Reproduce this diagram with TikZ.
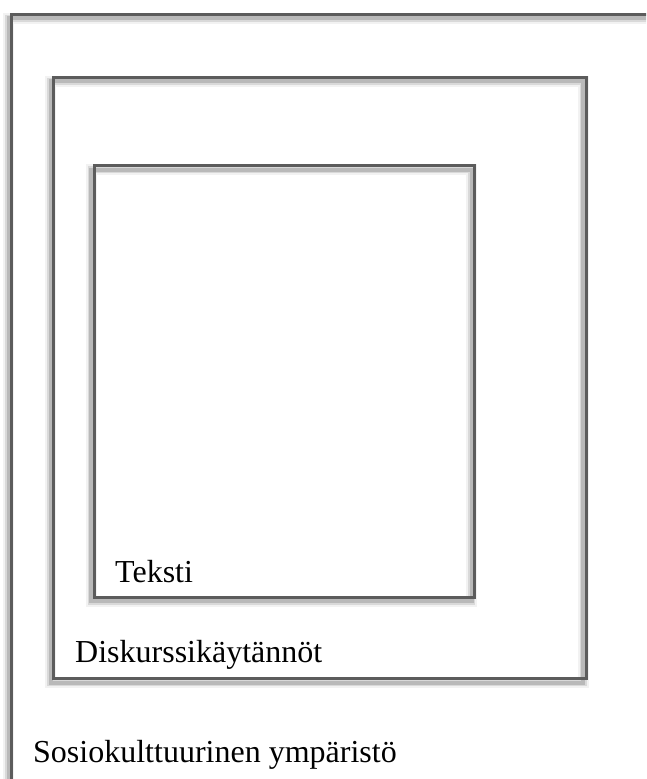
\documentclass[tikz,border=0pt]{standalone}
\usepackage{fontspec}
\setmainfont{Liberation Serif}
\usepackage{tikz}
\usetikzlibrary{positioning,calc}
\definecolor{boxgray}{RGB}{92,92,92}

\tikzset{
  layerbox/.style={draw=boxgray, line width=3pt, inner sep=0pt, outer sep=0pt,
    anchor=north west,
    preaction={draw=black, opacity=.05, line width=11pt, transform canvas={shift={(-3pt,-4pt)}}},
    preaction={draw=black, opacity=.10, line width=7pt, transform canvas={shift={(-3pt,-4pt)}}},
    preaction={draw=black, opacity=.15, line width=4pt, transform canvas={shift={(-3pt,-4pt)}}}},
  layerlabel/.style={anchor=base west, inner sep=0pt, font=\fontsize{32}{38}\selectfont}
}

\begin{document}
\begin{tikzpicture}[x=1pt, y=-1pt]
  \useasboundingbox (0,0) rectangle (646,779);
  \clip (0,0) rectangle (646,779);

  \node[layerbox, minimum width=660pt, minimum height=800pt] (ymparisto) at (11.5,14) {};
  \node[layerbox, minimum width=532.5pt, minimum height=601.5pt] (kaytannot) at (53.5,77) {};
  \node[layerbox, minimum width=380.5pt, minimum height=431.5pt] (teksti) at (94,165.5) {};

  \node[layerlabel] (tekstilabel) at ($(teksti.south west)+(21,-15)$) {Teksti};
  \node[layerlabel] (kaytannotlabel) at ($(kaytannot.south west)+(21.5,-16.5)$) {Diskurssikäytännöt};
  \node[layerlabel] (ymparistolabel) at (33,762) {Sosiokulttuurinen ympäristö};
\end{tikzpicture}
\end{document}
